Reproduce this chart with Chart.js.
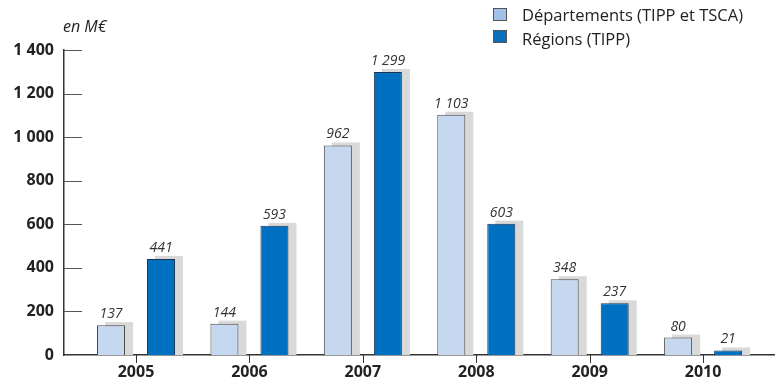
<!DOCTYPE html>
<html>
<head>
<meta charset="utf-8">
<script src="https://cdn.jsdelivr.net/npm/chart.js@4"></script>
<style>
html,body{margin:0;padding:0;background:#fff;}
#wrap{position:relative;width:777px;height:390px;}
canvas{position:absolute;left:0;top:0;}
.sq{position:absolute;left:493px;width:12px;height:11px;border:1px solid #555;}
.lt{position:absolute;left:522px;font:16.5px "Open Sans",sans-serif;color:#222;white-space:nowrap;line-height:20px;}
</style>
</head>
<body>
<div id="wrap">
<canvas id="c" width="777" height="390"></canvas>
<div class="sq" style="top:8px;background:#a3c0e8"></div>
<div class="lt" style="top:5px;">Départements (TIPP et TSCA)</div>
<div class="sq" style="top:30px;background:#0a6fba"></div>
<div class="lt" style="top:29px;">Régions (TIPP)</div>
</div>
<script>
const years = ['2005','2006','2007','2008','2009','2010'];
const departements = [137,144,962,1103,348,80];
const regions = [441,593,1299,603,237,21];
const yTicks = [0,200,400,600,800,1000,1200,1400];

const fmt = v => String(v).replace(/\B(?=(\d{3})+(?!\d))/g,' ');
const FONT = '"Open Sans", sans-serif';

const extras = {
  id:'extras',
  beforeDatasetsDraw(chart){
    const ctx = chart.ctx;
    const yb = chart.scales.y.getPixelForValue(0);
    ctx.save();
    ctx.fillStyle = '#d9d9d9';
    chart.data.datasets.forEach((ds,i)=>{
      chart.getDatasetMeta(i).data.forEach(b=>{
        const w = b.width;
        ctx.fillRect(b.x - w/2 + 8, b.y - 3, w, yb - b.y + 3);
      });
    });
    ctx.restore();
  },
  afterDatasetsDraw(chart){
    const ctx = chart.ctx;
    const ys = chart.scales.y, xs = chart.scales.x, ca = chart.chartArea;
    ctx.save();
    ctx.strokeStyle = '#555'; ctx.lineWidth = 1;
    yTicks.forEach(v=>{
      if(v===0) return;
      const y = Math.round(ys.getPixelForValue(v)) + 0.5;
      ctx.beginPath(); ctx.moveTo(ca.left, y); ctx.lineTo(ca.left+18, y); ctx.stroke();
    });
    ctx.strokeStyle = '#333';
    years.forEach((_,i)=>{
      const x = Math.round(xs.getPixelForValue(i)) + 0.5;
      ctx.beginPath(); ctx.moveTo(x, ca.bottom); ctx.lineTo(x, ca.bottom+8); ctx.stroke();
    });
    ctx.fillStyle = '#333';
    ctx.font = 'italic 14px ' + FONT;
    ctx.textAlign = 'center'; ctx.textBaseline = 'alphabetic';
    chart.data.datasets.forEach((ds,i)=>{
      chart.getDatasetMeta(i).data.forEach((b,j)=>{
        ctx.fillText(fmt(ds.data[j].y), b.x, b.y - 7);
      });
    });
    ctx.font = 'italic 16px ' + FONT;
    ctx.textAlign = 'left'; ctx.fillStyle = '#222';
    ctx.fillText('en M€', 63, 32);
    ctx.restore();
  }
};

new Chart(document.getElementById('c'), {
  type:'bar',
  data:{
    datasets:[
      {label:'Départements (TIPP et TSCA)', data:departements.map((v,i)=>({x:i,y:v})),
       backgroundColor:'#c6d8f0', borderColor:'#4a4a4a', borderWidth:1, borderSkipped:'bottom'},
      {label:'Régions (TIPP)', data:regions.map((v,i)=>({x:i,y:v})),
       backgroundColor:'#0070c0', borderColor:'#1d3550', borderWidth:1, borderSkipped:'bottom'}
    ]
  },
  options:{
    responsive:false, animation:false,
    layout:{padding:{top:50,right:3,bottom:0,left:0}},
    categoryPercentage:0.882, barPercentage:0.56,
    plugins:{legend:{display:false}, tooltip:{enabled:false}},
    scales:{
      x:{type:'linear', min:-0.635, max:5.625, offset:false,
        afterBuildTicks(s){ s.ticks = years.map((_,i)=>({value:i})); },
        afterFit(s){ s.height = 35; },
        ticks:{callback:(v)=>years[v], font:{family:FONT,size:16,weight:'bold'}, color:'#222', padding:8, autoSkip:false, maxRotation:0},
        grid:{drawOnChartArea:false, drawTicks:false, tickLength:8, color:'rgba(0,0,0,0)'},
        border:{display:true, color:'#333', width:1.5}
      },
      y:{min:0, max:1400,
        afterBuildTicks(s){ s.ticks = yTicks.map(v=>({value:v})); },
        afterFit(s){ s.width = 64; },
        ticks:{callback:v=>fmt(v), font:{family:FONT,size:16,weight:'bold'}, color:'#222', padding:10},
        grid:{display:false, drawTicks:false},
        border:{display:true, color:'#333', width:1.5}
      }
    }
  },
  plugins:[extras]
});
</script>
</body>
</html>
